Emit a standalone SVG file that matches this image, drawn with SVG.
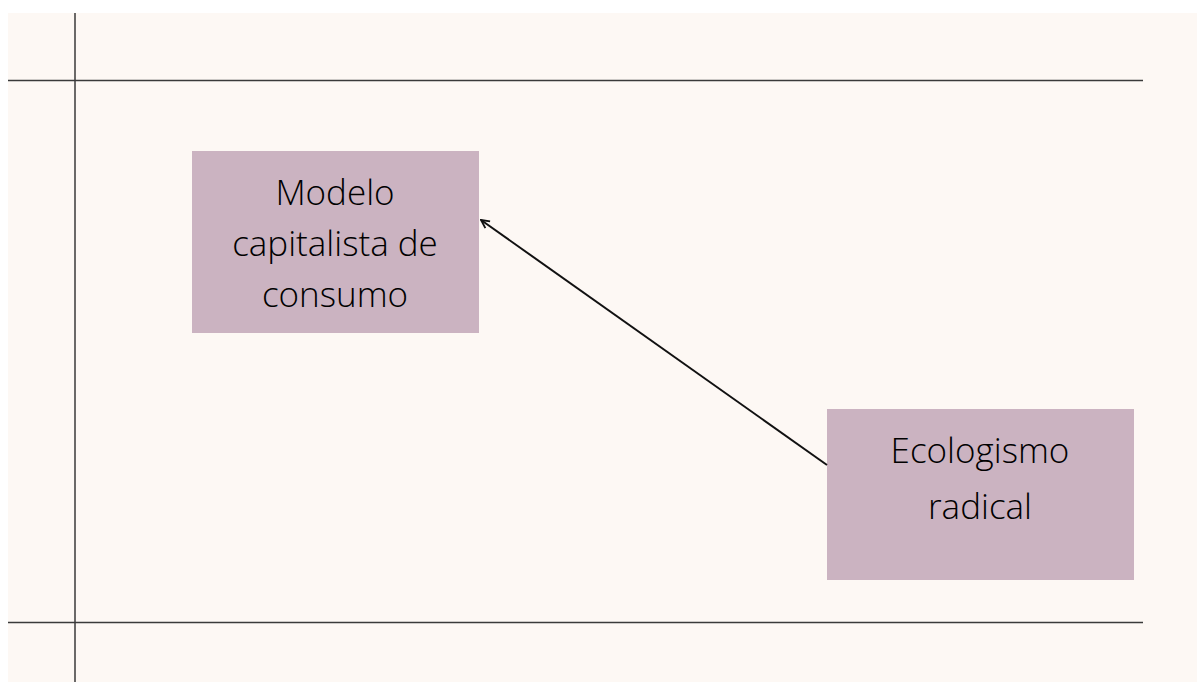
<svg xmlns="http://www.w3.org/2000/svg" width="1198" height="682" viewBox="0 0 1198 682">
  <style>
    .bg { fill: #FDF8F4; }
    .guide { stroke: #3a3a3a; stroke-width: 1.5; fill: none; }
    .box { fill: #CBB3C1; }
    .label { font-family: "Open Sans", "Liberation Sans", sans-serif; font-weight: 300; font-size: 35px; fill: #000; text-anchor: middle; }
    .conn { stroke: #111; stroke-width: 2; fill: none; }
  </style>
  <defs>
    <marker id="arrow" viewBox="0 0 12 12" refX="11" refY="6" markerWidth="11" markerHeight="11" orient="auto-start-reverse" markerUnits="userSpaceOnUse">
      <path d="M2,1.5 L11,6 L2,10.5" fill="none" stroke="#111" stroke-width="2"/>
    </marker>
  </defs>
  <rect x="0" y="0" width="1198" height="682" fill="#FFFFFF"/>
  <rect class="bg" x="8" y="13" width="1189" height="669"/>
  <g id="guides">
    <line class="guide" x1="75" y1="13" x2="75" y2="682"/>
    <line class="guide" x1="8" y1="80.5" x2="1143" y2="80.5"/>
    <line class="guide" x1="8" y1="622.5" x2="1143" y2="622.5"/>
  </g>
  <g id="node-modelo">
    <rect class="box" x="192" y="151" width="287" height="182"/>
    <text class="label" x="335" y="205">Modelo</text>
    <text class="label" x="335" y="256">capitalista de</text>
    <text class="label" x="335" y="307">consumo</text>
  </g>
  <g id="node-ecologismo">
    <rect class="box" x="827" y="409" width="307" height="171"/>
    <text class="label" x="980" y="463">Ecologismo</text>
    <text class="label" x="980" y="519">radical</text>
  </g>
  <g id="connectors">
    <line class="conn" x1="827" y1="465" x2="481" y2="220" marker-end="url(#arrow)"/>
  </g>
</svg>
